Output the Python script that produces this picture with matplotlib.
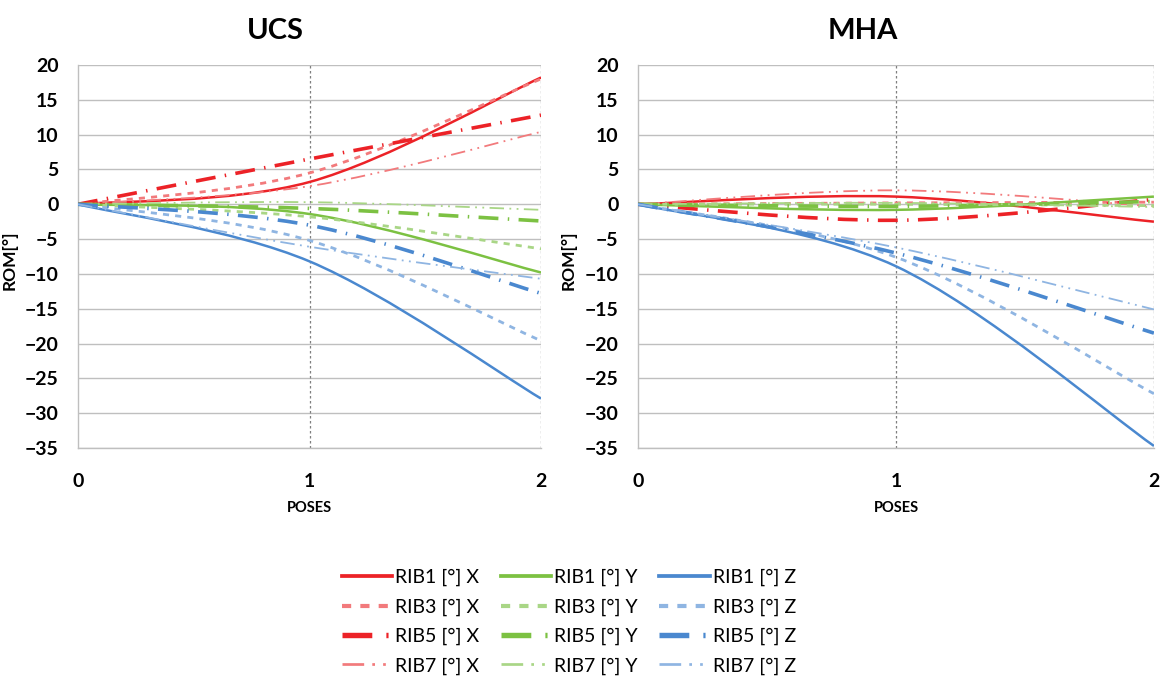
import numpy as np
import matplotlib
matplotlib.use("Agg")
import matplotlib.pyplot as plt
from matplotlib.path import Path
from matplotlib.patches import PathPatch
from matplotlib.lines import Line2D

# poses on the x axis
poses = [0, 1, 2]
ribs = ["RIB1", "RIB3", "RIB5", "RIB7"]

# ROM values [deg], one row per rib (RIB1, RIB3, RIB5, RIB7)
ucs_x = [[0, 3.2, 18.2], [0, 4.5, 18.0], [0, 6.5, 12.8], [0, 2.6, 10.4]]
ucs_y = [[0, -1.4, -9.8], [0, -1.8, -6.4], [0, -0.6, -2.4], [0, 0.3, -0.8]]
ucs_z = [[0, -8.2, -27.9], [0, -5.2, -19.6], [0, -3.0, -12.8], [0, -6.1, -10.7]]

mha_x = [[0, 1.1, -2.5], [0, 0.2, 0.3], [0, -2.3, 0.7], [0, 2.0, -0.3]]
mha_y = [[0, -0.8, 1.1], [0, 0.0, -0.2], [0, -0.3, 0.4], [0, 0.2, -0.4]]
mha_z = [[0, -8.9, -34.7], [0, -7.6, -27.2], [0, -7.0, -18.5], [0, -6.2, -15.1]]

# colours per axis: (strong, light)
colors = {
    "X": ("#EC2227", "#F27A7C"),
    "Y": ("#7CC142", "#A9D686"),
    "Z": ("#4A88CF", "#8FB5E2"),
}

# style per rib: (use light colour, linewidth, dash pattern)
styles = [
    (False, 1.8, "solid"),
    (True, 2.0, (0, (2.2, 2.2))),
    (False, 2.6, (0, (5.5, 2.6, 0.4, 2.6))),
    (True, 1.3, (0, (8.0, 3.0, 1.0, 3.0, 1.0, 3.0))),
]

FONT = "Lato"


def smooth_path(xs, ys):
    """Excel-like smoothed line: cubic Bezier through the data points."""
    pts = np.column_stack([xs, ys]).astype(float)
    ext = np.vstack([pts[0], pts, pts[-1]])
    verts = [pts[0]]
    codes = [Path.MOVETO]
    for i in range(len(pts) - 1):
        p0, p1, p2, p3 = ext[i], ext[i + 1], ext[i + 2], ext[i + 3]
        verts += [p1 + (p2 - p0) / 6.0, p2 - (p3 - p1) / 6.0, p2]
        codes += [Path.CURVE4] * 3
    return Path(verts, codes)


def draw_panel(ax, title, data_x, data_y, data_z, title_x):
    handles = []
    for axis_name, series in (("X", data_x), ("Y", data_y), ("Z", data_z)):
        for rib, vals, (light, lw, ls) in zip(ribs, series, styles):
            col = colors[axis_name][1 if light else 0]
            patch = PathPatch(smooth_path(poses, vals), fill=False, edgecolor=col,
                              lw=lw, linestyle=ls, zorder=3)
            ax.add_patch(patch)
            handles.append(Line2D([], [], color=col, lw=lw * 1.5, linestyle=ls,
                                  label=f"{rib} [°] {axis_name}"))

    ax.set_xlim(0, 2)
    ax.set_ylim(-35, 20)
    ax.set_xticks([0, 1, 2])
    ax.set_yticks(np.arange(-35, 21, 5))
    ax.yaxis.grid(True, color="#BFBFBF", lw=1.0)
    for xv in (1, 2):
        ax.axvline(xv, color="#7F7F7F", lw=0.9, ls=(0, (2, 2)), zorder=1)
    ax.set_axisbelow(True)
    for side in ("top", "right"):
        ax.spines[side].set_visible(False)
    for side in ("left", "bottom"):
        ax.spines[side].set_color("#BFBFBF")
        ax.spines[side].set_linewidth(1.0)
    ax.tick_params(length=0, labelsize=14)
    ax.tick_params(axis="y", pad=14)
    ax.tick_params(axis="x", pad=18)
    for lab in ax.get_xticklabels() + ax.get_yticklabels():
        lab.set_fontweight("bold")
        lab.set_fontfamily(FONT)
    ax.set_xlabel("POSES", fontsize=10.5, fontweight="bold", family=FONT, labelpad=8)
    ax.set_ylabel("ROM[°]", fontsize=12.5, fontweight="bold", family=FONT, labelpad=0)
    ax.yaxis.set_label_coords(-0.118 * 0.4444 / ax.get_position().width, 0.49)
    ax.figure.text(title_x, 0.955, title, ha="center", va="center",
                   fontsize=21, fontweight="bold", family=FONT)
    return handles


fig = plt.figure(figsize=(11.61, 6.84), dpi=100)
ax1 = fig.add_axes([0.0672, 0.345, 0.3988, 0.56])
ax2 = fig.add_axes([0.5495, 0.345, 0.4444, 0.56])

handles = draw_panel(ax1, "UCS", ucs_x, ucs_y, ucs_z, 0.237)
draw_panel(ax2, "MHA", mha_x, mha_y, mha_z, 0.743)

fig.legend(handles=handles, loc="center", bbox_to_anchor=(0.490, 0.091), ncol=3,
           frameon=False, prop={"family": FONT, "size": 14}, handlelength=2.6,
           handletextpad=0.15, columnspacing=1.1, labelspacing=0.62)

fig.savefig("out.png", dpi=100)
